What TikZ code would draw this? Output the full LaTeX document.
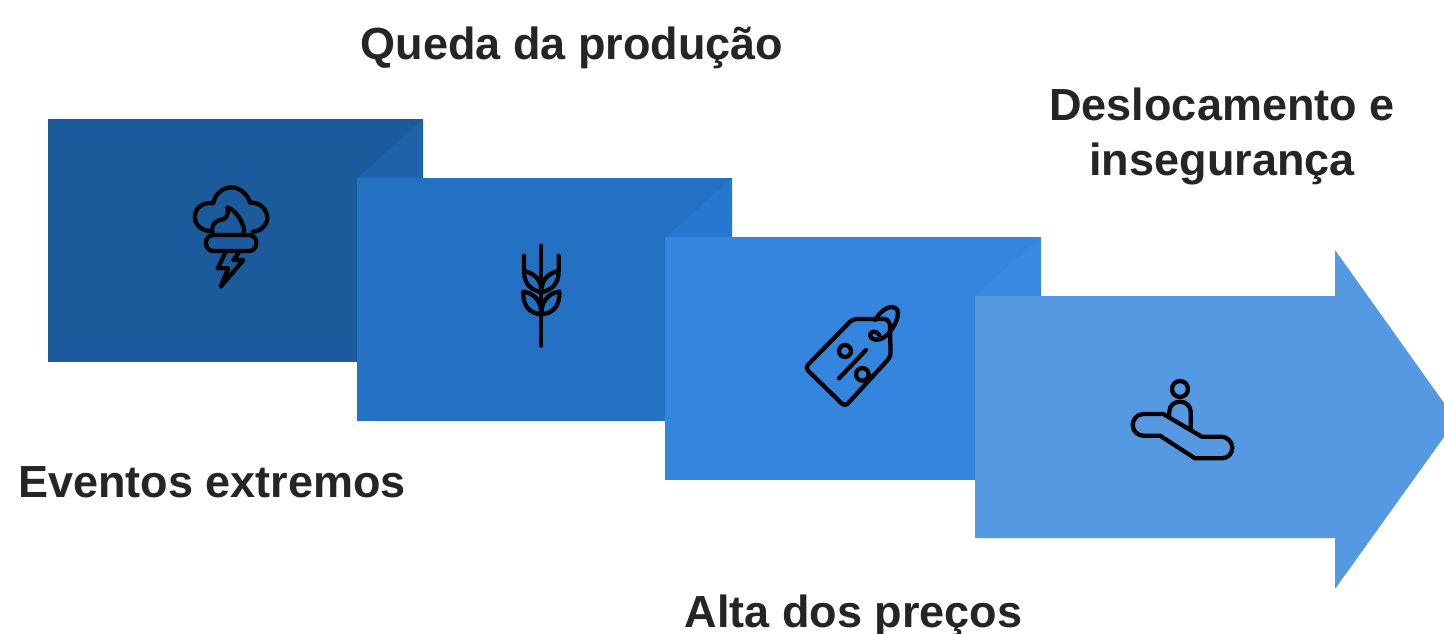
\documentclass[tikz,border=0pt]{standalone}
\usepackage{fontspec}
\setmainfont{Liberation Sans}[BoldFont={Liberation Sans Bold}]
\begin{document}
\begin{tikzpicture}[x=1pt,y=-1pt,
  lbl/.style={anchor=base,inner sep=0pt,text=txtc,font=\fontsize{45}{54}\selectfont\bfseries},
  icon/.style={draw=black,line width=4.3pt,line cap=round,line join=round}]
\definecolor{txtc}{HTML}{252525}
\definecolor{ca}{HTML}{1B5A9B}\definecolor{fa}{HTML}{1E63A9}
\definecolor{cb}{HTML}{2470C3}\definecolor{fb}{HTML}{2677CF}
\definecolor{cc}{HTML}{3385DE}\definecolor{fc}{HTML}{388AE1}
\definecolor{cd}{HTML}{5599E3}
\useasboundingbox (0,0) rectangle (1444,633);
\fill[white] (0,0) rectangle (1444,633);
% panels
\fill[ca] (48,119) rectangle (423,362);
\fill[fa] (357,178) -- (423,119) -- (423,178) -- cycle;
\fill[cb] (357,178) rectangle (732,421);
\fill[fb] (666,237) -- (732,178) -- (732,237) -- cycle;
\fill[cc] (665,237) rectangle (1041,480);
\fill[fc] (975,296) -- (1041,237) -- (1041,296) -- cycle;
\fill[cd] (975,296) -- (1335,296) -- (1335,250) -- (1444,403) -- (1444,437) -- (1335,589) -- (1335,538) -- (975,538) -- cycle;
% storm icon
\begin{scope}[shift={(170,170)},x=0.3333pt,y=-0.3333pt,icon]
\draw (118,183) .. controls (90,180) and (72,160) .. (75,135) .. controls (78,110) and (105,95) .. (130,100) .. controls (135,70) and (160,52) .. (185,52) .. controls (210,52) and (235,75) .. (240,98) .. controls (265,95) and (292,115) .. (292,145) .. controls (292,165) and (270,185) .. (248,185);
\draw (128,190) .. controls (122,165) and (135,150) .. (160,148) .. controls (175,140) and (175,125) .. (172,112) .. controls (195,120) and (212,145) .. (218,165) .. controls (225,175) and (222,185) .. (220,192);
\draw[rounded corners=7.3pt] (108,195) rectangle (259,243);
\draw (165,250) -- (143,295) -- (175,295) -- (152,350) -- (220,270) -- (190,270) -- (205,250);
\end{scope}
% wheat icon
\begin{scope}[shift={(490,235)},x=0.3333pt,y=-0.3333pt,icon]
\draw (154,32) -- (154,332);
\draw (102,62) -- (102,108) .. controls (135,115) and (154,135) .. (154,172) .. controls (125,165) and (102,150) .. (102,108);
\draw (206,62) -- (206,108) .. controls (173,115) and (154,135) .. (154,172) .. controls (183,165) and (206,150) .. (206,108);
\draw (100,170) .. controls (135,175) and (154,200) .. (154,238) .. controls (120,235) and (98,215) .. (100,170);
\draw (208,170) .. controls (173,175) and (154,200) .. (154,238) .. controls (188,235) and (210,215) .. (208,170);
\end{scope}
% price tag icon
\begin{scope}[shift={(790,295)},x=0.3333pt,y=-0.3333pt,icon]
\draw[rounded corners=4pt] (188,72) -- (275,72) .. controls (290,72) and (300,85) .. (300,100) -- (302,185) -- (165,335) -- (45,218) -- cycle;
\draw (255,75) .. controls (275,40) and (310,25) .. (322,45) .. controls (330,65) and (310,105) .. (285,125) .. controls (265,140) and (240,135) .. (240,120) .. controls (240,108) and (260,105) .. (268,120);
\draw (165,168) circle (18);
\draw (217,238) circle (19);
\draw (147,250) -- (228,165);
\end{scope}
% escalator icon
\begin{scope}[shift={(1120,370)},x=0.3333pt,y=-0.3333pt,icon]
\draw (180,57) circle (24);
\draw (148,140) -- (148,125) .. controls (148,105) and (165,95) .. (180,95) .. controls (200,95) and (212,110) .. (212,125) -- (212,178);
\draw (130,132) -- (70,132) .. controls (50,132) and (38,150) .. (38,165) .. controls (38,185) and (55,197) .. (70,197) -- (120,197) -- (225,265) -- (305,265) .. controls (325,265) and (337,250) .. (337,232) .. controls (337,215) and (320,200) .. (305,200) -- (245,200) -- cycle;
\end{scope}
% labels
\node[lbl] (queda) at (572,59) {Queda da produção};
\node[lbl] (desloc) at (1222,120) {Deslocamento e};
\node[lbl] (inseg) at (1222,175) {insegurança};
\node[lbl] (eventos) at (212,497) {Eventos extremos};
\node[lbl] (alta) at (853.5,627) {Alta dos preços};
\end{tikzpicture}
\end{document}
